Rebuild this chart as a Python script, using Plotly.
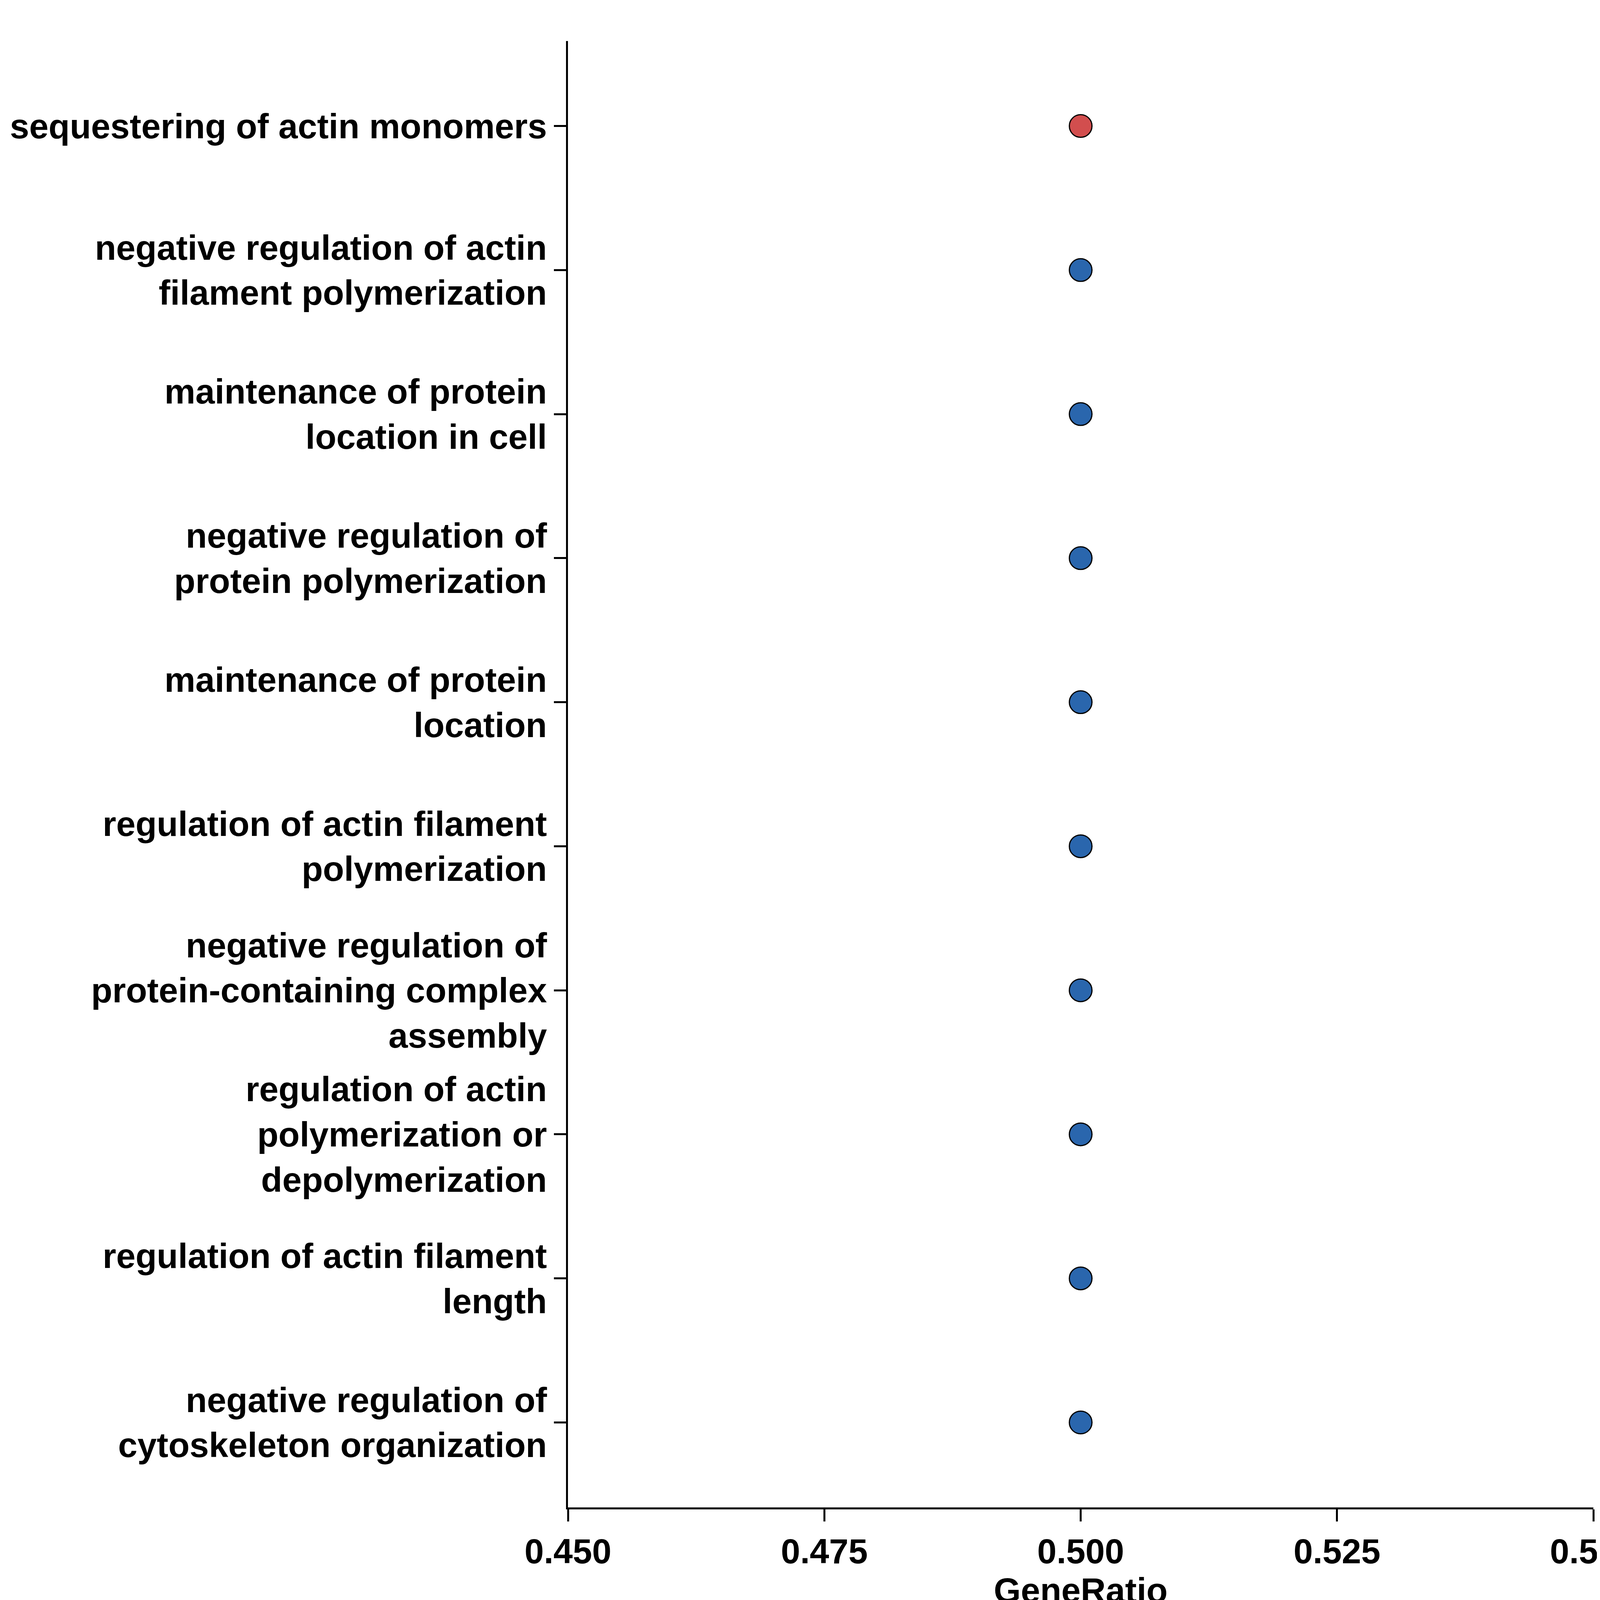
import plotly.graph_objects as go

# GO terms, bottom to top
terms = [
    "negative regulation of<br>cytoskeleton organization",
    "regulation of actin filament<br>length",
    "regulation of actin<br>polymerization or<br>depolymerization",
    "negative regulation of<br>protein-containing complex<br>assembly",
    "regulation of actin filament<br>polymerization",
    "maintenance of protein<br>location",
    "negative regulation of<br>protein polymerization",
    "maintenance of protein<br>location in cell",
    "negative regulation of actin<br>filament polymerization",
    "sequestering of actin monomers",
]
gene_ratio = [0.5, 0.5, 0.5, 0.5, 0.5, 0.5, 0.5, 0.5, 0.5, 0.5]
dot_colors = ["#2A66AD"] * 9 + ["#D24E4E"]

FONT = "Liberation Sans, Arial, sans-serif"

fig = go.Figure(go.Scatter(
    x=gene_ratio, y=list(range(len(terms))), mode="markers",
    marker=dict(size=58, color=dot_colors, line=dict(color="black", width=3)),
    showlegend=False,
))

fig.update_layout(
    width=4200, height=4200,
    margin=dict(l=1446, r=129, t=97, b=349),
    plot_bgcolor="white", paper_bgcolor="white",
    font=dict(family=FONT, color="black"),
)
fig.update_xaxes(
    range=[0.45, 0.55], tickvals=[0.45, 0.475, 0.5, 0.525, 0.55],
    ticktext=["<b>0.450</b>", "<b>0.475</b>", "<b>0.500</b>", "<b>0.525</b>", "<b>0.550</b>"],
    showline=True, linecolor="black", linewidth=5, ticks="outside",
    ticklen=31, tickwidth=5, tickcolor="black", showgrid=False, zeroline=False,
    tickfont=dict(size=89, family=FONT),
    title=dict(text="<b>GeneRatio</b>", font=dict(size=89), standoff=5),
)
fig.update_yaxes(
    range=[-0.59, 9.59], tickvals=list(range(len(terms))), ticktext=[f"<b>{t}</b>" for t in terms],
    showline=True, linecolor="black", linewidth=5, ticks="outside",
    ticklen=31, tickwidth=5, tickcolor="black", showgrid=False, zeroline=False,
    tickfont=dict(size=89, family=FONT),
)

fig.write_html("out.html")
